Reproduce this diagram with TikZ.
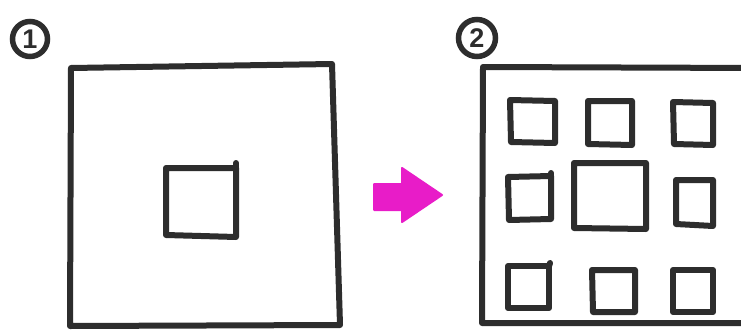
\documentclass[tikz,border=0pt]{standalone}
\usepackage{fontspec}
\setsansfont{Liberation Sans}
\definecolor{pen}{RGB}{45,45,45}
\definecolor{marker}{RGB}{232,28,200}
\tikzset{
  penline/.style={draw=pen, line width=6pt, line cap=round, line join=round},
  thinpen/.style={draw=pen, line width=6pt, line cap=round, line join=round},
  numcircle/.style={circle, draw=pen, line width=5.5pt, minimum size=35pt, inner sep=0pt,
     text=pen, font=\sffamily\bfseries\fontsize{27}{27}\selectfont},
  arrowfill/.style={fill=marker, draw=marker, line width=2pt, line join=round}
}
\begin{document}
\begin{tikzpicture}[x=1pt,y=-1pt]
\useasboundingbox (0,0) rectangle (741,332);
\fill[white] (0,0) rectangle (741,332);

% labels
\node[numcircle] (n1) at (30,39) {1};
\node[numcircle, minimum size=37pt] (n2) at (477,38) {2};

% panel 1
\draw[penline] (71,68) -- (332,64) -- (340,325) -- (70,326) -- cycle;
\draw[thinpen] (166,168) -- (236,168) -- (236,237) -- (166,235) -- cycle;
\draw[thinpen] (236,168) -- (236,163);

% arrow
\path[arrowfill] (374,184) -- (402,184) -- (402,168) -- (442,195) -- (402,222) -- (402,210) -- (374,210) -- cycle;

% panel 2
\begin{scope}
\clip (0,0) rectangle (741,332);
\draw[penline] (760,68) -- (483,67) -- (482,323) -- (760,323);
\end{scope}
% small boxes row 1
\draw[thinpen] (510,100) -- (555,101) -- (555,143) -- (511,142) -- cycle;
\draw[thinpen] (588,101) -- (632,101) -- (632,145) -- (588,144) -- cycle;
\draw[thinpen] (673,102) -- (713,103) -- (713,145) -- (674,144) -- cycle;
% row 2
\draw[thinpen] (508,177) -- (551,176) -- (551,219) -- (509,220) -- cycle;
\draw[thinpen] (551,176) -- (551,173);
\draw[thinpen] (574,163) -- (646,163) -- (646,229) -- (574,228) -- cycle;
\draw[thinpen] (676,180) -- (713,180) -- (713,226) -- (676,224) -- cycle;
% row 3
\draw[thinpen] (508,266) -- (549,266) -- (549,308) -- (508,308) -- cycle;
\draw[thinpen] (549,266) -- (550,263);
\draw[thinpen] (592,270) -- (635,270) -- (635,312) -- (593,312) -- cycle;
\draw[thinpen] (673,270) -- (713,270) -- (713,312) -- (673,312) -- cycle;
\end{tikzpicture}
\end{document}
